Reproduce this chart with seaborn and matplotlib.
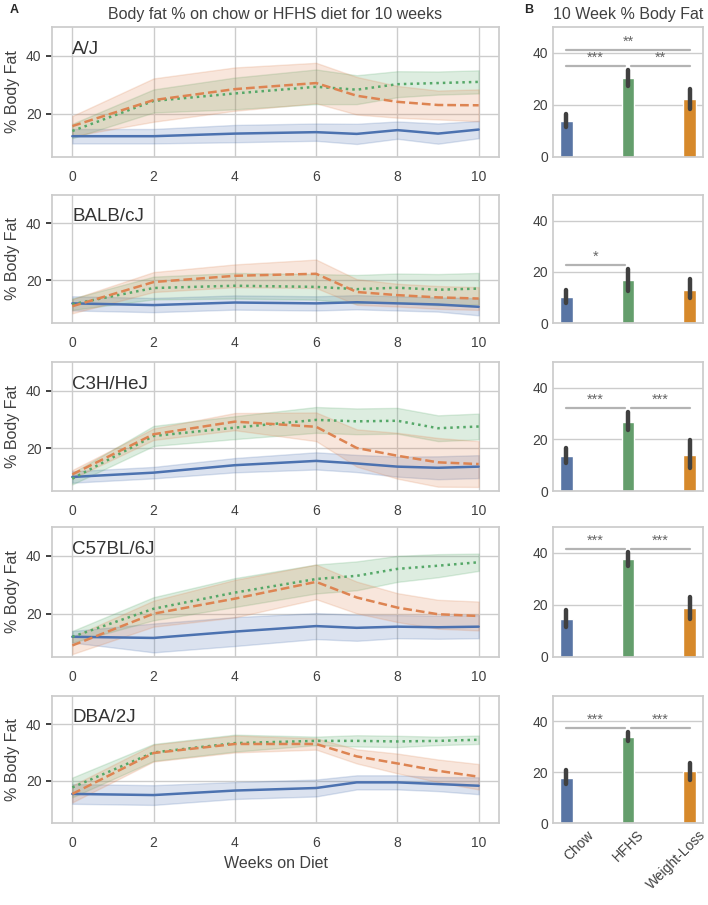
import numpy as np
import pandas as pd
import matplotlib
matplotlib.use("Agg")
import matplotlib.pyplot as plt
import seaborn as sns

# ---------------- data ----------------
weeks = [0, 2, 4, 6, 7, 8, 9, 10]
strains = ["A/J", "BALB/cJ", "C3H/HeJ", "C57BL/6J", "DBA/2J"]
diets = ["Chow", "HFHS", "Weight-Loss"]

# time course: mean % body fat and CI half-width, per strain and diet
aj_chow = [12.2, 12.2, 13.1, 13.6, 13.0, 14.3, 13.1, 14.5]
aj_chow_ci = [2.5, 2.5, 3.0, 3.0, 3.5, 3.0, 3.5, 3.0]
aj_hfhs = [14.0, 24.4, 27.0, 29.3, 28.3, 30.2, 30.6, 31.0]
aj_hfhs_ci = [2.5, 4.0, 5.5, 6.0, 5.0, 4.5, 4.0, 4.0]
aj_wl = [15.7, 24.7, 28.5, 30.6, 26.2, 24.1, 23.0, 22.9]
aj_wl_ci = [3.5, 7.5, 7.5, 7.0, 6.5, 5.5, 5.0, 5.5]

balb_chow = [11.9, 11.3, 12.2, 11.9, 12.3, 11.9, 11.5, 10.7]
balb_chow_ci = [2.5, 2.5, 2.5, 2.5, 2.5, 2.5, 2.5, 3.0]
balb_hfhs = [11.6, 17.3, 18.1, 17.7, 16.9, 17.4, 16.7, 17.1]
balb_hfhs_ci = [2.0, 4.0, 4.5, 4.5, 5.0, 5.0, 5.5, 5.5]
balb_wl = [10.9, 19.4, 21.6, 22.3, 15.9, 14.8, 14.0, 13.6]
balb_wl_ci = [2.5, 3.5, 4.0, 5.0, 4.5, 4.0, 4.0, 4.0]

c3h_chow = [9.9, 11.4, 14.0, 15.5, 14.6, 13.5, 13.1, 13.5]
c3h_chow_ci = [2.0, 2.0, 2.5, 3.0, 3.0, 3.5, 4.0, 4.0]
c3h_hfhs = [9.3, 24.2, 27.1, 29.8, 29.3, 29.5, 26.9, 27.5]
c3h_hfhs_ci = [2.0, 3.5, 4.0, 4.5, 4.5, 4.5, 4.5, 4.5]
c3h_wl = [10.8, 24.8, 29.2, 27.4, 20.0, 17.3, 15.0, 14.4]
c3h_wl_ci = [1.5, 2.0, 3.0, 5.0, 6.5, 8.0, 8.5, 8.0]

c57_chow = [12.0, 11.6, 13.8, 15.7, 15.1, 15.5, 15.3, 15.5]
c57_chow_ci = [2.0, 5.0, 5.0, 4.5, 4.5, 4.0, 4.0, 4.0]
c57_hfhs = [12.0, 21.7, 27.3, 32.0, 33.1, 35.5, 36.6, 37.8]
c57_hfhs_ci = [2.0, 4.0, 5.0, 5.0, 5.0, 4.5, 4.0, 3.0]
c57_wl = [9.0, 20.0, 25.2, 31.0, 25.6, 22.1, 19.8, 19.2]
c57_wl_ci = [3.0, 4.5, 6.5, 6.0, 5.5, 5.0, 5.0, 5.0]

dba_chow = [15.3, 14.9, 16.5, 17.4, 19.4, 19.4, 18.8, 18.2]
dba_chow_ci = [3.5, 3.5, 3.0, 3.0, 2.5, 2.5, 2.5, 3.0]
dba_hfhs = [17.6, 30.0, 33.3, 34.1, 34.1, 33.9, 34.1, 34.5]
dba_hfhs_ci = [3.5, 3.0, 3.0, 1.5, 2.0, 2.0, 1.5, 1.5]
dba_wl = [15.3, 29.8, 33.0, 33.0, 28.6, 26.1, 23.5, 21.4]
dba_wl_ci = [3.0, 3.0, 3.0, 2.0, 2.5, 3.5, 4.0, 4.5]

# week-10 bars: (mean, lower, upper) for Chow, HFHS, Weight-Loss
aj_bar = [(14.0, 11.4, 16.5), (30.4, 27.2, 33.6), (22.2, 18.5, 26.2)]
balb_bar = [(10.0, 8.0, 12.8), (16.8, 12.5, 21.0), (13.0, 9.7, 17.0)]
c3h_bar = [(13.4, 10.8, 16.6), (26.8, 23.8, 30.5), (13.8, 8.8, 19.9)]
c57_bar = [(14.7, 11.5, 18.0), (37.6, 35.0, 40.2), (19.0, 14.8, 22.9)]
dba_bar = [(17.6, 15.5, 20.7), (33.7, 32.4, 35.7), (20.5, 17.0, 23.7)]

# significance brackets: (group1, group2, y, label)
aj_sig = [("Chow", "HFHS", 35.0, "***"), ("HFHS", "Weight-Loss", 35.0, "**"),
          ("Chow", "Weight-Loss", 41.2, "**")]
balb_sig = [("Chow", "HFHS", 22.5, "*")]
c3h_sig = [("Chow", "HFHS", 32.0, "***"), ("HFHS", "Weight-Loss", 32.0, "***")]
c57_sig = [("Chow", "HFHS", 41.4, "***"), ("HFHS", "Weight-Loss", 41.4, "***")]
dba_sig = [("Chow", "HFHS", 37.4, "***"), ("HFHS", "Weight-Loss", 37.4, "***")]

series = {
    "A/J": [(aj_chow, aj_chow_ci), (aj_hfhs, aj_hfhs_ci), (aj_wl, aj_wl_ci)],
    "BALB/cJ": [(balb_chow, balb_chow_ci), (balb_hfhs, balb_hfhs_ci), (balb_wl, balb_wl_ci)],
    "C3H/HeJ": [(c3h_chow, c3h_chow_ci), (c3h_hfhs, c3h_hfhs_ci), (c3h_wl, c3h_wl_ci)],
    "C57BL/6J": [(c57_chow, c57_chow_ci), (c57_hfhs, c57_hfhs_ci), (c57_wl, c57_wl_ci)],
    "DBA/2J": [(dba_chow, dba_chow_ci), (dba_hfhs, dba_hfhs_ci), (dba_wl, dba_wl_ci)],
}
bars = {"A/J": aj_bar, "BALB/cJ": balb_bar, "C3H/HeJ": c3h_bar,
        "C57BL/6J": c57_bar, "DBA/2J": dba_bar}
sigs = {"A/J": aj_sig, "BALB/cJ": balb_sig, "C3H/HeJ": c3h_sig,
        "C57BL/6J": c57_sig, "DBA/2J": dba_sig}

# ---------------- style ----------------
sns.set_theme(style="whitegrid")
plt.rcParams["font.family"] = ["Liberation Sans", "DejaVu Sans"]

line_pal = {"Chow": "#4c72b0", "HFHS": "#55a868", "Weight-Loss": "#dd8452"}
bar_pal = {"Chow": "#5975a4", "HFHS": "#649e6c", "Weight-Loss": "#d6892b"}
dash_map = {"Chow": "", "HFHS": (1, 1.6), "Weight-Loss": (3.5, 1.6)}

W, H = 708, 905
fig = plt.figure(figsize=(W / 100, H / 100), dpi=100)

rows = [(27, 157), (195, 323), (362, 491), (527, 657), (696, 823)]
lx0, lx1 = 52, 499
rx0, rx1 = 553, 703

for i, strain in enumerate(strains):
    top, bot = rows[i]
    axl = fig.add_axes([lx0 / W, 1 - bot / H, (lx1 - lx0) / W, (bot - top) / H])
    axr = fig.add_axes([rx0 / W, 1 - bot / H, (rx1 - rx0) / W, (bot - top) / H])

    # time course lines
    recs = []
    for d, (m, c) in zip(diets, series[strain]):
        for w, mv, cv in zip(weeks, m, c):
            for v in (mv - cv, mv, mv + cv):
                recs.append({"week": w, "fat": v, "diet": d})
    df = pd.DataFrame(recs)
    sns.lineplot(data=df, x="week", y="fat", hue="diet", style="diet",
                 hue_order=diets, style_order=diets, palette=line_pal,
                 dashes=dash_map, estimator="mean", errorbar=("pi", 100),
                 linewidth=1.8, legend=False, ax=axl)
    axl.set_xlim(-0.5, 10.5)
    axl.set_ylim(5, 50)
    axl.set_xticks([0, 2, 4, 6, 8, 10])
    axl.set_yticks([20, 40])
    axl.tick_params(axis="both", labelsize=10, labelcolor=".25")
    axl.tick_params(axis="y", left=True, length=4, width=1.3, color=".2")
    axl.set_ylabel("% Body Fat", fontsize=11.5, color=".25")
    axl.set_xlabel("Weeks on Diet" if i == len(strains) - 1 else "",
                   fontsize=11.5, color=".25")
    axl.text(0, 39.3, strain, fontsize=13.5, color=".2", ha="left", va="bottom")
    if i == 0:
        axl.set_title("Body fat % on chow or HFHS diet for 10 weeks",
                      fontsize=11.5, color=".25", pad=6)

    # week-10 bars
    brecs = []
    for d, (m, lo, hi) in zip(diets, bars[strain]):
        for v in (lo, m, hi):
            brecs.append({"diet": d, "fat": v})
    bdf = pd.DataFrame(brecs)
    sns.barplot(data=bdf, x="diet", y="fat", hue="diet", order=diets,
                hue_order=diets, palette=bar_pal, dodge=True, saturation=1,
                estimator="median", errorbar=("pi", 100),
                err_kws={"linewidth": 3.2, "color": ".25",
                         "solid_capstyle": "round"},
                legend=False, ax=axr)
    axr.set_ylim(0, 50)
    axr.set_yticks([0, 20, 40])
    axr.tick_params(axis="both", labelsize=10, length=0, labelcolor=".25")
    axr.set_ylabel("")
    axr.set_xlabel("")
    axr.grid(axis="x", visible=False)
    if i == len(strains) - 1:
        axr.set_xticks(range(len(diets)))
        axr.set_xticklabels(diets, rotation=45, ha="center", fontsize=10)
    else:
        axr.set_xticklabels([])
    if i == 0:
        axr.set_title("10 Week % Body Fat", fontsize=11.5, color=".25", pad=6)

    centers = {}
    for p in axr.patches:
        cx = p.get_x() + p.get_width() / 2
        h = p.get_height()
        for d, (m, lo, hi) in zip(diets, bars[strain]):
            if abs(h - m) < 1e-6 and d not in centers:
                centers[d] = cx
                break
    for g1, g2, y, lab in sigs[strain]:
        x1 = centers[g1] + (0.06 if g1 == "HFHS" else 0)
        x2 = centers[g2] - (0.06 if g2 == "HFHS" else 0)
        axr.plot([x1, x2], [y, y], color="#b3b3b3", lw=1.6, zorder=5)
        axr.text((x1 + x2) / 2, y + 0.6, lab, ha="center", va="bottom",
                 fontsize=10.5, color=".4", zorder=5)

fig.text(10 / W, 1 - 4 / H, "A", fontsize=9, fontweight="bold", va="top")
fig.text(524 / W, 1 - 4 / H, "B", fontsize=9, fontweight="bold", va="top")

fig.savefig("out.png", dpi=100)
